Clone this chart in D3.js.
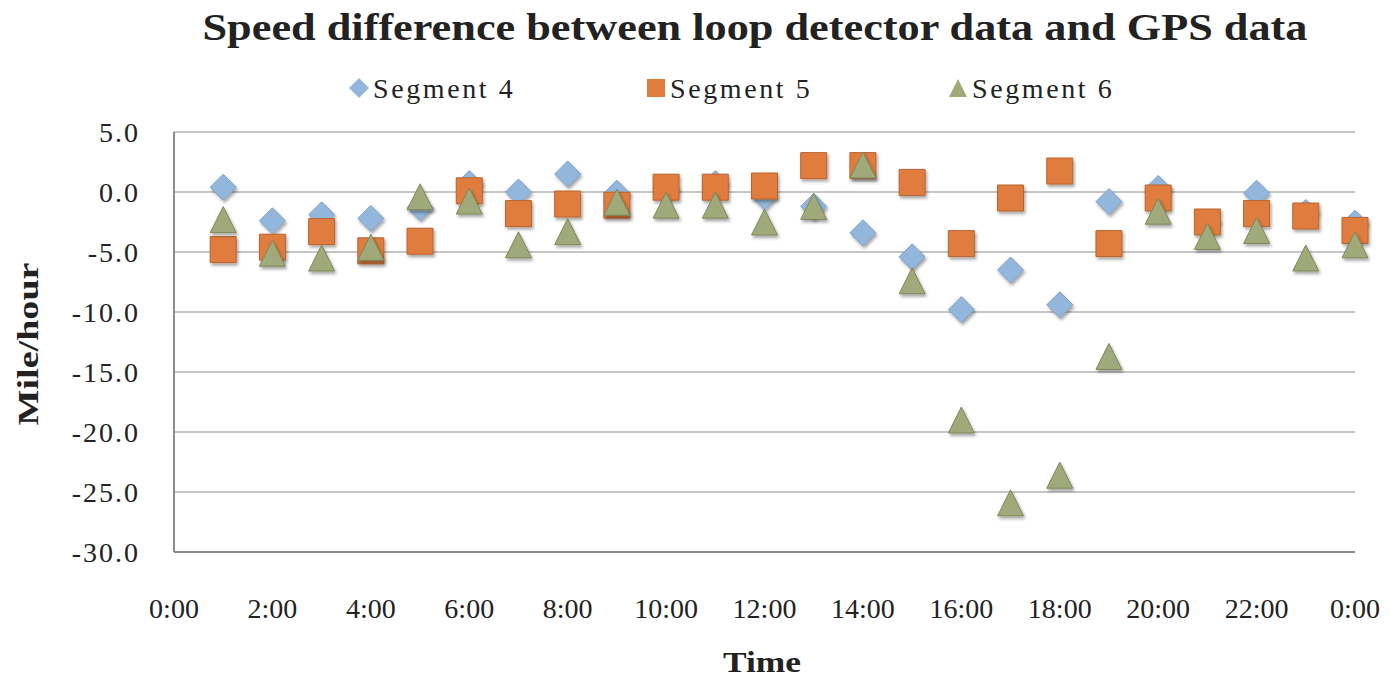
<!DOCTYPE html>
<html>
<head>
<meta charset="utf-8">
<script src="https://cdn.jsdelivr.net/npm/d3@7"></script>
<style>
  body { margin: 0; background: #fff; }
  svg text { font-family: "Liberation Serif", "DejaVu Serif", serif; fill: #222; }
</style>
</head>
<body>
<div id="graph_here"></div>
<script>
// hours of the day (1:00 .. 24:00)
const hours = [1,2,3,4,5,6,7,8,9,10,11,12,13,14,15,16,17,18,19,20,21,22,23,24];
// speed difference, mile/hour
const seg4 = [0.4,-2.4,-1.9,-2.2,-1.3,0.7,0.0,1.5,-0.1,0.3,0.7,-0.4,-1.2,-3.4,-5.4,-9.8,-6.5,-9.4,-0.8,0.3,-2.5,-0.1,-1.7,-2.6];
const seg5 = [-4.8,-4.6,-3.3,-4.9,-4.1,0.1,-1.8,-1.0,-1.1,0.4,0.4,0.5,2.2,2.2,0.8,-4.3,-0.5,1.75,-4.3,-0.5,-2.5,-1.8,-2.0,-3.2];
const seg6 = [-2.3,-5.1,-5.5,-4.6,-0.4,-0.75,-4.4,-3.3,-0.85,-1.1,-1.1,-2.5,-1.2,2.25,-7.4,-19.0,-25.9,-23.6,-13.7,-1.6,-3.7,-3.2,-5.5,-4.4];
const seriesNames = ["Segment 4", "Segment 5", "Segment 6"];
const xTicks = [0,2,4,6,8,10,12,14,16,18,20,22,24];
const xTickLabels = ["0:00","2:00","4:00","6:00","8:00","10:00","12:00","14:00","16:00","18:00","20:00","22:00","0:00"];
const yTicks = [5,0,-5,-10,-15,-20,-25,-30];

function drawchart(){
    const width = 1391;
    const height = 677;

    const svg = d3.select('#graph_here')
        .append('svg')
        .attr('width', width)
        .attr('height', height);

    // soft drop shadow like the office chart markers
    const defs = svg.append('defs');
    defs.append('filter')
        .attr('id', 'shadow')
        .attr('x', '-50%').attr('y', '-50%')
        .attr('width', '200%').attr('height', '200%')
        .append('feDropShadow')
        .attr('dx', 1.5).attr('dy', 2.5)
        .attr('stdDeviation', 1.5)
        .attr('flood-color', '#000')
        .attr('flood-opacity', 0.35);

    const xScale = d3.scaleLinear().domain([0, 24]).range([174, 1355]);
    const yScale = d3.scaleLinear().domain([-30, 5]).range([552, 132]);

    // gridlines
    svg.append('g')
        .selectAll('line')
        .data(yTicks)
        .enter()
        .append('line')
        .attr('x1', xScale(0))
        .attr('x2', xScale(24))
        .attr('y1', d => yScale(d))
        .attr('y2', d => yScale(d))
        .attr('stroke', d => d === -30 ? '#8c8c8c' : '#c6c6c6')
        .attr('stroke-width', 2);

    // left axis line
    svg.append('line')
        .attr('x1', xScale(0)).attr('x2', xScale(0))
        .attr('y1', yScale(5)).attr('y2', yScale(-30))
        .attr('stroke', '#8c8c8c')
        .attr('stroke-width', 2);

    // y tick labels
    svg.append('g')
        .selectAll('text')
        .data(yTicks)
        .enter()
        .append('text')
        .attr('x', xScale(0) - 34)
        .attr('y', d => yScale(d))
        .attr('dy', '0.34em')
        .attr('text-anchor', 'end')
        .style('font-size', '28px')
        .style('letter-spacing', '2px')
        .text(d => d.toFixed(1));

    // x tick labels
    svg.append('g')
        .selectAll('text')
        .data(xTicks)
        .enter()
        .append('text')
        .attr('x', d => xScale(d))
        .attr('y', 618)
        .attr('text-anchor', 'middle')
        .style('font-size', '28px')
        .text((d, i) => xTickLabels[i]);

    // titles
    svg.append('text')
        .attr('x', 755).attr('y', 40)
        .attr('text-anchor', 'middle')
        .attr('textLength', 1105)
        .attr('lengthAdjust', 'spacingAndGlyphs')
        .style('font-size', '37px')
        .style('font-weight', 'bold')
        .text('Speed difference between loop detector data and GPS data');

    svg.append('text')
        .attr('x', 762).attr('y', 672)
        .attr('text-anchor', 'middle')
        .attr('textLength', 78)
        .attr('lengthAdjust', 'spacingAndGlyphs')
        .style('font-size', '29px')
        .style('font-weight', 'bold')
        .text('Time');

    svg.append('text')
        .attr('transform', 'translate(38,344) rotate(-90)')
        .attr('text-anchor', 'middle')
        .attr('textLength', 163)
        .attr('lengthAdjust', 'spacingAndGlyphs')
        .style('font-size', '29px')
        .style('font-weight', 'bold')
        .text('Mile/hour');

    // marker shapes, r = half size
    function markerPath(kind, r){
        if (kind === 0) return `M0,${-r}L${r},0L0,${r}L${-r},0Z`;
        if (kind === 1) return `M${-r},${-r}H${r}V${r}H${-r}Z`;
        return `M0,${-r}L${r},${r}L${-r},${r}Z`;
    }
    const fills = ['#93b7dc', '#e07c3e', '#a0a97a'];
    const strokes = ['#7f9fc6', '#b9632d', '#7d8757'];

    const allSeries = [seg4, seg5, seg6];
    allSeries.forEach((vals, k) => {
        svg.append('g')
            .selectAll('path')
            .data(vals)
            .enter()
            .append('path')
            .attr('d', markerPath(k, 13))
            .attr('transform', (d, i) => 'translate(' + xScale(hours[i]) + ',' + yScale(d) + ')')
            .attr('fill', fills[k])
            .attr('stroke', strokes[k])
            .attr('stroke-width', 1)
            .attr('filter', 'url(#shadow)');
    });

    // legend
    const legendX = [359, 656, 958];
    const legend = svg.append('g')
        .selectAll('g')
        .data(seriesNames)
        .enter()
        .append('g')
        .attr('transform', (d, i) => 'translate(' + legendX[i] + ',88)');

    legend.append('path')
        .attr('d', (d, i) => markerPath(i, i === 0 ? 10 : 9))
        .attr('fill', (d, i) => fills[i]);

    legend.append('text')
        .attr('x', 14)
        .attr('y', 10)
        .style('font-size', '28px')
        .style('letter-spacing', '2.6px')
        .text(d => d);
}

window.addEventListener('load', drawchart);
</script>
</body>
</html>
